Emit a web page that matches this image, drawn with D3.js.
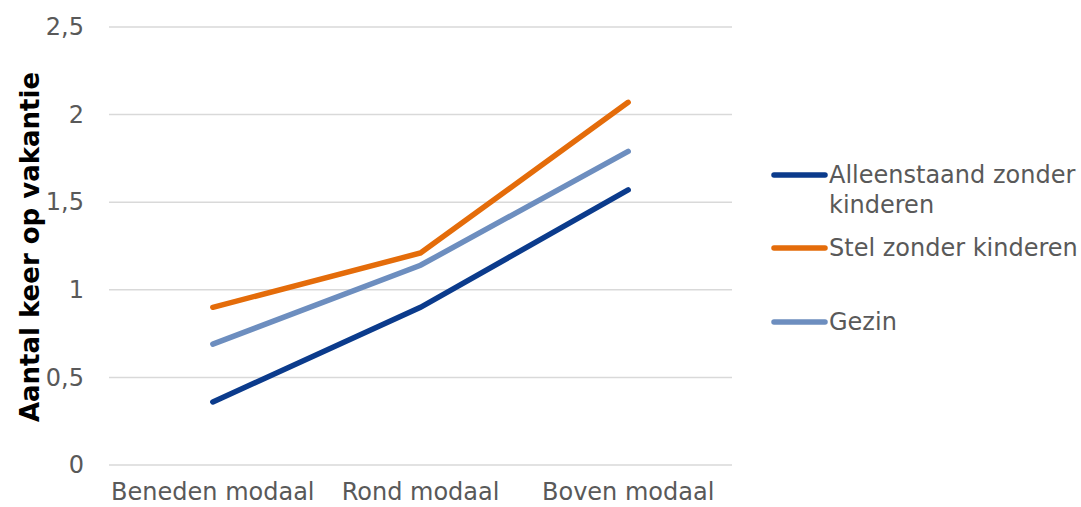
<!DOCTYPE html>
<html>
<head>
<meta charset="utf-8">
<script src="https://cdn.jsdelivr.net/npm/d3@7"></script>
<style>
  body { margin: 0; background: #fff; }
  text { font-family: "DejaVu Sans", Verdana, sans-serif; }
</style>
</head>
<body>
<div id="chart"></div>
<script>
// data
var categories = ["Beneden modaal", "Rond modaal", "Boven modaal"];
var seriesNames = ["Alleenstaand zonder kinderen", "Stel zonder kinderen", "Gezin"];
var alleenstaand = [0.36, 0.90, 1.57];
var stel = [0.90, 1.21, 2.07];
var gezin = [0.69, 1.14, 1.79];
var yTicks = [0, 0.5, 1, 1.5, 2, 2.5];
var colors = ["#0b3b8c", "#e46c0a", "#6d8ebf"];

var series = [alleenstaand, stel, gezin];

var width = 1081, height = 507;
var margin = {top: 27, left: 109, right: 349, bottom: 42};
var plotW = width - margin.left - margin.right,
    plotH = height - margin.top - margin.bottom;

var svg = d3.select("#chart")
  .append("svg")
  .attr("width", width)
  .attr("height", height);

var chart = svg.append("g")
  .attr("transform", "translate(" + margin.left + "," + margin.top + ")");

var x = d3.scaleBand()
  .domain(categories)
  .range([0, plotW]);

var y = d3.scaleLinear()
  .domain([0, 2.5])
  .range([plotH, 0]);

// gridlines
chart.append("g")
  .selectAll("line")
  .data(yTicks)
  .enter()
  .append("line")
  .attr("x1", 0)
  .attr("x2", plotW)
  .attr("y1", d => y(d))
  .attr("y2", d => y(d))
  .style("stroke", "#d9d9d9")
  .style("stroke-width", 1.5);

// y axis
var yAxis = chart.append("g")
  .call(d3.axisLeft(y).tickValues(yTicks).tickSize(0).tickPadding(25)
    .tickFormat(d => String(d).replace(".", ",")));
yAxis.select(".domain").remove();
yAxis.selectAll("text")
  .style("font-size", "24px")
  .style("fill", "#595959");

// x axis
var xAxis = chart.append("g")
  .attr("transform", "translate(0," + plotH + ")")
  .call(d3.axisBottom(x).tickSize(0).tickPadding(18));
xAxis.select(".domain").remove();
xAxis.selectAll("text")
  .style("font-size", "24px")
  .style("fill", "#595959");

// y axis title
svg.append("text")
  .attr("transform", "rotate(-90)")
  .attr("x", -247)
  .attr("y", 39)
  .attr("text-anchor", "middle")
  .style("font-size", "26px")
  .style("font-weight", "bold")
  .style("fill", "#000")
  .text("Aantal keer op vakantie");

// lines
var line = d3.line()
  .x((d, i) => x(categories[i]) + x.bandwidth() / 2)
  .y(d => y(d));

chart.selectAll(".series")
  .data(series)
  .enter()
  .append("path")
  .attr("d", line)
  .style("fill", "none")
  .style("stroke", (d, i) => colors[i])
  .style("stroke-width", 5.5)
  .style("stroke-linecap", "round");

// legend
var legendRows = [
  {y: 175, lines: ["Alleenstaand zonder", "kinderen"]},
  {y: 248, lines: ["Stel zonder kinderen"]},
  {y: 322, lines: ["Gezin"]}
];
var legend = svg.append("g");
legendRows.forEach(function(row, i) {
  legend.append("line")
    .attr("x1", 774).attr("x2", 825)
    .attr("y1", row.y).attr("y2", row.y)
    .style("stroke", colors[i])
    .style("stroke-width", 5.5)
    .style("stroke-linecap", "round");
  row.lines.forEach(function(t, j) {
    legend.append("text")
      .attr("x", 829)
      .attr("y", row.y + 8 + j * 30)
      .style("font-size", "24px")
      .style("fill", "#595959")
      .text(t);
  });
});
</script>
</body>
</html>
